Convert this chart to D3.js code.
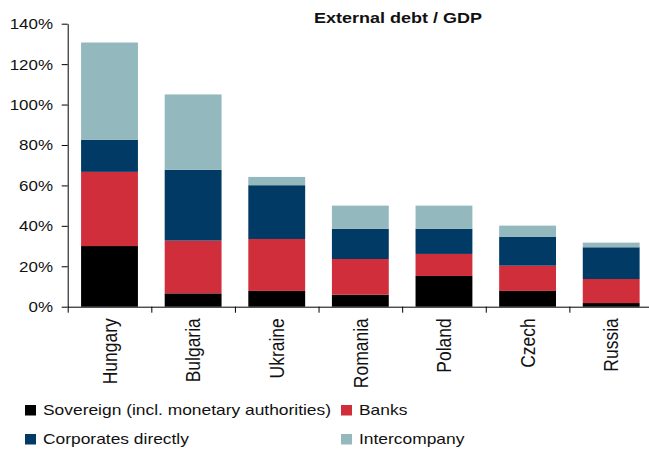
<!DOCTYPE html>
<html>
<head>
<meta charset="utf-8">
<script src="https://cdn.jsdelivr.net/npm/d3@7"></script>
<style>
  html, body { margin: 0; padding: 0; background: #fff; }
  svg { display: block; font-family: "Liberation Sans", Arial, sans-serif; }
</style>
</head>
<body>
<svg id="chart" width="649" height="449"></svg>
<script>
const categories = ["Hungary", "Bulgaria", "Ukraine", "Romania", "Poland", "Czech", "Russia"];
const sovereign = [30.0, 6.6, 7.8, 5.9, 15.2, 7.8, 1.8];
const banks = [36.7, 26.1, 25.7, 17.7, 10.9, 12.5, 11.9];
const corporates = [15.8, 35.0, 26.6, 14.9, 12.4, 14.2, 15.7];
const intercompany = [48.2, 37.3, 4.1, 11.5, 11.5, 5.6, 2.3];
const seriesNames = ["Sovereign (incl. monetary authorities)", "Banks", "Corporates directly", "Intercompany"];
const seriesKeys = ["sovereign", "banks", "corporates", "intercompany"];
const colors = ["#000000", "#D12E3B", "#003A65", "#93B8BE"];
const yTicks = [0, 20, 40, 60, 80, 100, 120, 140];
const chartTitle = "External debt / GDP";

const rows = categories.map((c, i) => ({
  cat: c,
  sovereign: sovereign[i],
  banks: banks[i],
  corporates: corporates[i],
  intercompany: intercompany[i]
}));

const svg = d3.select("#chart");
const mLeft = 67.7, mBottom = 306.7, mTop = 23.7, mRight = 653;
const textColor = "#111";

const x = d3.scaleBand().domain(categories).range([mLeft, mRight]).paddingInner(0.32).paddingOuter(0.16);
const xEdges = d3.scaleLinear().domain([0, categories.length]).range([mLeft, mRight]);
const y = d3.scaleLinear().domain([0, 140]).range([mBottom, mTop]);

const stacked = d3.stack().keys(seriesKeys)(rows);

svg.append("g").selectAll("g").data(stacked).join("g")
  .attr("fill", (d, i) => colors[i])
  .selectAll("rect").data(d => d).join("rect")
  .attr("x", d => x(d.data.cat))
  .attr("width", x.bandwidth())
  .attr("y", d => y(d[1]))
  .attr("height", d => y(d[0]) - y(d[1]));

// Y axis
const yAxis = svg.append("g")
  .attr("transform", `translate(${mLeft},0)`)
  .call(d3.axisLeft(y).tickValues(yTicks).tickFormat(d => d + "%").tickSize(6).tickSizeOuter(0));
yAxis.selectAll("path, line").attr("stroke", "#000");
yAxis.selectAll("text")
  .attr("fill", textColor)
  .style("font-size", "15px")
  .attr("x", -13)
  .attr("dy", "0.33em")
  .attr("transform", "scale(1.13,1)");

// X axis: tick marks at band edges
const xAxisEdges = svg.append("g")
  .attr("transform", `translate(0,${mBottom})`)
  .call(d3.axisBottom(xEdges).tickValues(d3.range(categories.length + 1)).tickFormat("").tickSize(6).tickSizeOuter(0));
xAxisEdges.selectAll("path, line").attr("stroke", "#000");

// X axis labels at band centers
const xAxisLabels = svg.append("g")
  .attr("transform", `translate(0,${mBottom})`)
  .call(d3.axisBottom(x).tickSize(0));
xAxisLabels.select(".domain").remove();
xAxisLabels.selectAll("text")
  .attr("fill", textColor)
  .style("font-size", "17.5px")
  .attr("text-anchor", "end")
  .attr("x", -11.5)
  .attr("y", 0)
  .attr("dy", "0.36em")
  .attr("transform", "scale(1.15,1) rotate(-90)");

// Title
svg.append("text")
  .attr("transform", "translate(398,23) scale(1.2,1)")
  .attr("text-anchor", "middle")
  .attr("fill", textColor)
  .style("font-size", "15px")
  .style("font-weight", "bold")
  .text(chartTitle);

// Legend
const legendPos = [
  { x: 25, y: 405 },
  { x: 341, y: 405 },
  { x: 25, y: 434 },
  { x: 341, y: 434 }
];
const legend = svg.append("g").selectAll("g").data(seriesNames).join("g")
  .attr("transform", (d, i) => `translate(${legendPos[i].x},${legendPos[i].y})`);
legend.append("rect")
  .attr("width", 11).attr("height", 10.5)
  .attr("fill", (d, i) => colors[i]);
legend.append("text")
  .attr("transform", "translate(18,10) scale(1.16,1)")
  .attr("fill", textColor)
  .style("font-size", "15px")
  .text(d => d);
</script>
</body>
</html>
